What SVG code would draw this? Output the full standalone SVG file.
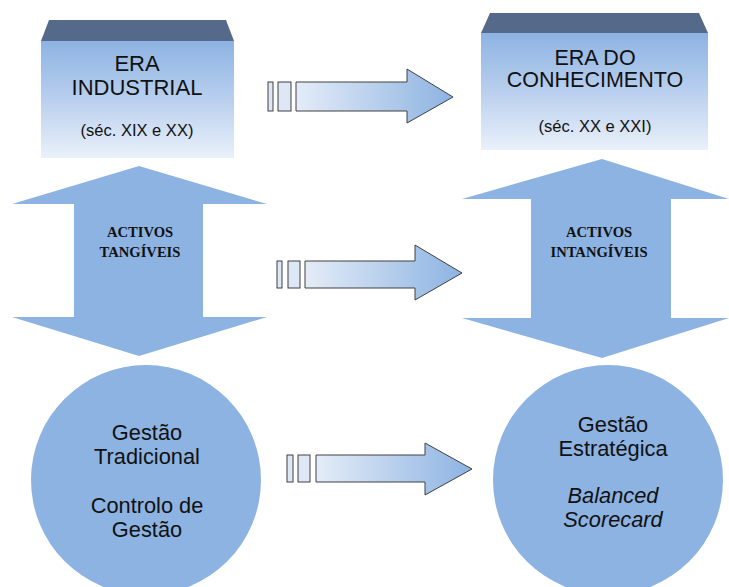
<svg xmlns="http://www.w3.org/2000/svg" width="729" height="587" viewBox="0 0 729 587">
<defs>
<linearGradient id="boxg" x1="0" y1="0" x2="0" y2="1">
<stop offset="0" stop-color="#8db3e2"/>
<stop offset="0.5" stop-color="#b9cfee"/>
<stop offset="1" stop-color="#eaf1fa"/>
</linearGradient>
<linearGradient id="arrg" x1="0" y1="0" x2="1" y2="0">
<stop offset="0" stop-color="#e4ecf8"/>
<stop offset="1" stop-color="#8db3e2"/>
</linearGradient>
<style>
.top{fill:#55698a}
.body{fill:url(#boxg)}
.sans{font-family:"Liberation Sans",Arial,sans-serif;fill:#111;text-anchor:middle}
.serif{font-family:"Liberation Serif","Times New Roman",serif;font-weight:bold;font-size:14.6px;fill:#111;text-anchor:middle}
.dbl{fill:#8db3e2}
.circ{fill:#8db3e2}
.arr{fill:url(#arrg);stroke:#404040;stroke-width:1}
.bar{fill:#dde7f5;stroke:#404040;stroke-width:1}
</style>
</defs>

<g id="era-industrial">
<polygon class="top" points="49,20 226,20 234,41 41,41"/>
<rect class="body" x="41" y="41" width="193" height="117"/>
<text class="sans" x="137" y="71" font-size="22">ERA</text>
<text class="sans" x="137" y="95" font-size="22">INDUSTRIAL</text>
<text class="sans" x="137" y="136" font-size="16.5">(séc. XIX e XX)</text>
</g>

<g id="era-conhecimento">
<polygon class="top" points="490,13 699,13 708,33 481,33"/>
<rect class="body" x="481" y="33" width="227" height="117"/>
<text class="sans" x="595" y="65" font-size="21.5">ERA DO</text>
<text class="sans" x="595" y="87" font-size="21.5">CONHECIMENTO</text>
<text class="sans" x="595" y="132" font-size="16.5">(séc. XX e XXI)</text>
</g>

<g id="activos-tangiveis">
<polygon class="dbl" points="139,166 267,204 203,204 203,317 267,317 139,356 12,317 74,317 74,204 12,204"/>
<text class="serif" x="140" y="237">ACTIVOS</text>
<text class="serif" x="140" y="257">TANGÍVEIS</text>
</g>

<g id="activos-intangiveis">
<polygon class="dbl" points="602,159 729,199 671,199 671,318 729,318 602,358 462,318 531,318 531,199 462,199"/>
<text class="serif" x="599" y="237">ACTIVOS</text>
<text class="serif" x="599" y="257">INTANGÍVEIS</text>
</g>

<g id="gestao-tradicional">
<circle class="circ" cx="146" cy="480" r="115"/>
<text class="sans" x="147" y="440" font-size="21.8">Gestão</text>
<text class="sans" x="147" y="464" font-size="21.8">Tradicional</text>
<text class="sans" x="147" y="513" font-size="21.8">Controlo de</text>
<text class="sans" x="147" y="537" font-size="21.8">Gestão</text>
</g>

<g id="gestao-estrategica">
<circle class="circ" cx="608" cy="480" r="115"/>
<text class="sans" x="613" y="432" font-size="21.8">Gestão</text>
<text class="sans" x="613" y="456" font-size="21.8">Estratégica</text>
<text class="sans" x="613" y="503" font-size="21.8" font-style="italic">Balanced</text>
<text class="sans" x="613" y="527" font-size="21.8" font-style="italic">Scorecard</text>
</g>

<g id="connectors">
<g id="arrow-top">
<rect class="bar" x="268" y="82" width="5" height="29"/>
<rect class="bar" x="278" y="82" width="13" height="29"/>
<polygon class="arr" points="296,82 407,82 407,69 453,97 407,123 407,111 296,111"/>
</g>
<g id="arrow-middle">
<rect class="bar" x="277" y="261" width="5" height="27"/>
<rect class="bar" x="288" y="261" width="12" height="27"/>
<polygon class="arr" points="305,261 415,261 415,245 462,273 415,300 415,288 305,288"/>
</g>
<g id="arrow-bottom">
<rect class="bar" x="287" y="455" width="6" height="27"/>
<rect class="bar" x="298" y="455" width="12" height="27"/>
<polygon class="arr" points="316,455 425,455 425,443 472,469 425,495 425,482 316,482"/>
</g>
</g>
</svg>
